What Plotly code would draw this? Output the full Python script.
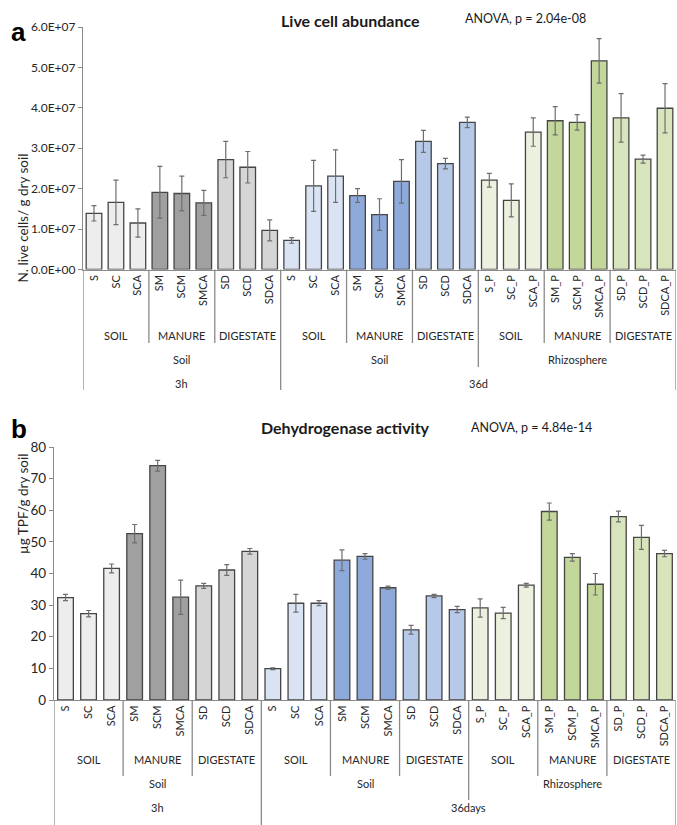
import plotly.graph_objects as go

W, H = 677, 825

# ---------------- data ----------------
bar_labels = ["S", "SC", "SCA", "SM", "SCM", "SMCA", "SD", "SCD", "SDCA",
              "S", "SC", "SCA", "SM", "SCM", "SMCA", "SD", "SCD", "SDCA",
              "S_P", "SC_P", "SCA_P", "SM_P", "SCM_P", "SMCA_P", "SD_P", "SCD_P", "SDCA_P"]
group_labels = ["SOIL", "MANURE", "DIGESTATE"] * 3
site_labels = ["Soil", "Soil", "Rhizosphere"]
time_labels_a = ["3h", "36d"]
time_labels_b = ["3h", "36days"]

live_cells = [1.39e7, 1.66e7, 1.15e7, 1.91e7, 1.88e7, 1.65e7, 2.72e7, 2.53e7, 0.97e7,
              0.72e7, 2.07e7, 2.31e7, 1.83e7, 1.36e7, 2.18e7, 3.17e7, 2.62e7, 3.64e7,
              2.21e7, 1.71e7, 3.40e7, 3.68e7, 3.64e7, 5.16e7, 3.75e7, 2.73e7, 3.99e7]
live_cells_err = [0.19e7, 0.55e7, 0.35e7, 0.64e7, 0.43e7, 0.31e7, 0.45e7, 0.39e7, 0.26e7,
                  0.07e7, 0.63e7, 0.65e7, 0.17e7, 0.39e7, 0.54e7, 0.27e7, 0.13e7, 0.13e7,
                  0.17e7, 0.41e7, 0.35e7, 0.35e7, 0.19e7, 0.55e7, 0.60e7, 0.10e7, 0.61e7]

dehydrogenase = [32.4, 27.3, 41.6, 52.6, 74.1, 32.5, 36.1, 41.1, 47.0,
                 9.9, 30.6, 30.6, 44.2, 45.4, 35.5, 22.2, 32.9, 28.6,
                 29.1, 27.5, 36.3, 59.6, 45.1, 36.6, 58.0, 51.4, 46.3]
dehydrogenase_err = [1.0, 1.0, 1.4, 2.9, 1.7, 5.4, 0.8, 1.7, 0.9,
                     0.3, 2.8, 0.8, 3.3, 0.9, 0.5, 1.4, 0.5, 1.0,
                     2.9, 1.8, 0.6, 2.7, 1.2, 3.4, 1.7, 3.8, 1.0]

group_colors = ["#ededed", "#a0a0a0", "#d5d5d5",
                "#dae3f3", "#8eaadb", "#b6c9e8",
                "#ebf1de", "#c4d79b", "#d8e4bc"]

yticks_a = [0, 1e7, 2e7, 3e7, 4e7, 5e7, 6e7]
yticktext_a = ["0.0E+00", "1.0E+07", "2.0E+07", "3.0E+07", "4.0E+07", "5.0E+07", "6.0E+07"]
yticks_b = [0, 10, 20, 30, 40, 50, 60, 70, 80]

# ---------------- layout helpers ----------------
FONT = "Lato, Carlito, 'Open Sans', sans-serif"
AXC = "#8a8a8a"
TXT = "#262626"
n = len(bar_labels)
bar_colors = [group_colors[i // 3] for i in range(n)]


def px_x(p):
    return p / W


def px_y(p):
    return 1 - p / H


fig = go.Figure()

panels = [
    dict(vals=live_cells, errs=live_cells_err, xa="x", ya="y",
         xdom=(83, 676), ydom=(27, 269.5), width=0.71,
         rows=(336, 359, 383), ends=(343, 367, 390), times=time_labels_a),
    dict(vals=dehydrogenase, errs=dehydrogenase_err, xa="x2", ya="y2",
         xdom=(54, 676), ydom=(447, 700), width=0.68,
         rows=(768, 792, 816), ends=(776, 800, 825), times=time_labels_b),
]

x_idx = list(range(n))
shapes = []
annotations = []
lab_font = dict(size=11, color=TXT, family=FONT)

for p in panels:
    fig.add_trace(go.Bar(
        x=x_idx, y=p["vals"], xaxis=p["xa"], yaxis=p["ya"],
        width=p["width"],
        marker=dict(color=bar_colors, line=dict(color="#454545", width=1.3)),
        error_y=dict(type="data", array=p["errs"], visible=True,
                     color="#6e6e6e", thickness=1.2, width=2.5),
        showlegend=False, hoverinfo="x+y",
    ))
    xref = p["xa"]
    r_inner, r_site, r_time = p["rows"]
    e_inner, e_site, e_time = p["ends"]
    y0 = px_y(p["ydom"][1])
    for g in range(9):
        annotations.append(dict(x=g * 3 + 1, y=px_y(r_inner), xref=xref, yref="paper",
                                text=group_labels[g], showarrow=False, font=lab_font))
    for s in range(3):
        annotations.append(dict(x=s * 9 + 4, y=px_y(r_site), xref=xref, yref="paper",
                                text=site_labels[s], showarrow=False, font=lab_font))
    annotations.append(dict(x=4, y=px_y(r_time), xref=xref, yref="paper",
                            text=p["times"][0], showarrow=False, font=lab_font))
    annotations.append(dict(x=17.5, y=px_y(r_time), xref=xref, yref="paper",
                            text=p["times"][1], showarrow=False, font=lab_font))
    for b in range(0, n + 1, 3):
        if b in (0, 9, 27):
            end = e_time
        elif b == 18:
            end = e_site
        else:
            end = e_inner
        shapes.append(dict(type="line", xref=xref, yref="paper",
                           x0=b - 0.5, x1=b - 0.5, y0=y0, y1=px_y(end),
                           line=dict(color=AXC, width=1.3)))

axis_common = dict(showgrid=False, zeroline=False, showline=True, linecolor=AXC,
                   linewidth=1.3, automargin=False)

fig.update_layout(
    width=W, height=H,
    margin=dict(l=0, r=0, t=0, b=0, pad=0),
    paper_bgcolor="white", plot_bgcolor="white",
    font=dict(family=FONT, color=TXT),
    xaxis=dict(domain=[px_x(83), px_x(676)], anchor="y", range=[-0.5, n - 0.5],
               tickmode="array", tickvals=x_idx, ticktext=bar_labels, tickangle=-90,
               ticks="", tickfont=dict(size=11, color=TXT), **axis_common),
    yaxis=dict(domain=[px_y(269.5), px_y(27)], anchor="x", range=[0, 6e7],
               tickmode="array", tickvals=yticks_a, ticktext=yticktext_a,
               ticks="outside", ticklen=4, tickcolor=AXC,
               tickfont=dict(size=12, color=TXT), **axis_common),
    xaxis2=dict(domain=[px_x(54), px_x(676)], anchor="y2", range=[-0.5, n - 0.5],
                tickmode="array", tickvals=x_idx, ticktext=bar_labels, tickangle=-90,
                ticks="", tickfont=dict(size=11, color=TXT), **axis_common),
    yaxis2=dict(domain=[px_y(700), px_y(447)], anchor="x2", range=[0, 80],
                tickmode="array", tickvals=yticks_b,
                ticks="outside", ticklen=4, tickcolor=AXC,
                tickfont=dict(size=13.5, color=TXT), **axis_common),
    shapes=shapes,
)

annotations += [
    dict(x=px_x(9), y=px_y(15), xref="paper", yref="paper", text="<b>a</b>",
         showarrow=False, xanchor="left", font=dict(size=26, color="black", family="Liberation Sans, Arial")),
    dict(x=px_x(350), y=px_y(9), xref="paper", yref="paper", text="<b>Live cell abundance</b>",
         showarrow=False, font=dict(size=16, color="#1a1a1a", family=FONT)),
    dict(x=px_x(588), y=px_y(9), xref="paper", yref="paper", text="ANOVA, p = 2.04e-08",
         showarrow=False, font=dict(size=12.5, color="#1a1a1a", family=FONT)),
    dict(x=px_x(13), y=px_y(152), xref="paper", yref="paper", text="N. live cells/ g dry soil",
         showarrow=False, textangle=-90, font=dict(size=13.5, color=TXT, family=FONT)),
    dict(x=px_x(9), y=px_y(429), xref="paper", yref="paper", text="<b>b</b>",
         showarrow=False, xanchor="left", font=dict(size=26, color="black", family="Liberation Sans, Arial")),
    dict(x=px_x(345), y=px_y(427), xref="paper", yref="paper", text="<b>Dehydrogenase activity</b>",
         showarrow=False, font=dict(size=16, color="#1a1a1a", family=FONT)),
    dict(x=px_x(594), y=px_y(427), xref="paper", yref="paper", text="ANOVA, p = 4.84e-14",
         showarrow=False, font=dict(size=12.5, color="#1a1a1a", family=FONT)),
    dict(x=px_x(13), y=px_y(556), xref="paper", yref="paper", text="µg TPF/g dry soil",
         showarrow=False, textangle=-90, font=dict(size=13.5, color=TXT, family=FONT)),
]
fig.update_layout(annotations=annotations)

fig.write_html("out.html", config={"displayModeBar": False},
               post_script="document.body.style.margin='0';document.body.style.overflow='hidden';")
